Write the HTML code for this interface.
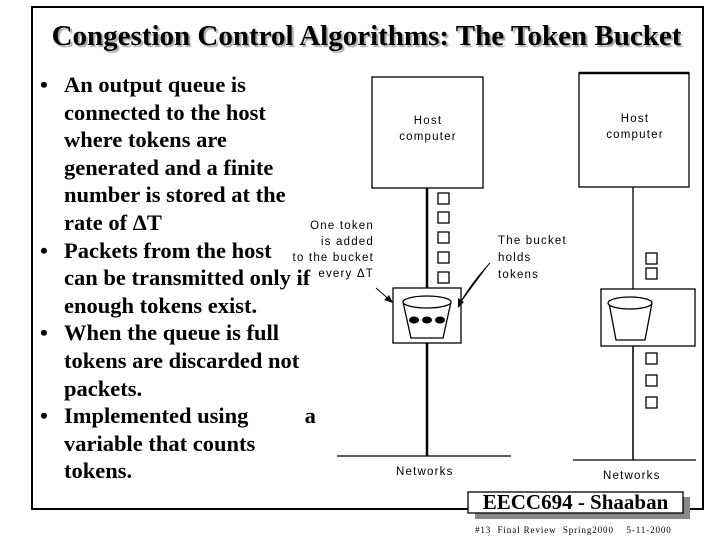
<!DOCTYPE html>
<html><head><meta charset="utf-8"><style>
body{margin:0;width:720px;height:540px;background:#fff;position:relative;overflow:hidden;font-family:"Liberation Serif",serif}
.frame{position:absolute;left:31px;top:6px;width:669px;height:500px;border:2px solid #000}
.title{position:absolute;left:31px;width:671px;top:20px;text-align:center;font-weight:bold;font-size:29px;text-shadow:2px 2px 1px #aaa;white-space:nowrap}
.txt{position:absolute;left:40px;top:71px;font-weight:bold;font-size:22.5px;line-height:27.6px;white-space:nowrap}
.txt div{position:relative;padding-left:24px}
.txt .b:before{content:"•";position:absolute;left:0}
.s{position:absolute;font-family:"Liberation Sans",sans-serif;font-size:11.5px;letter-spacing:1.2px;line-height:16px}
</style></head><body>
<div class="frame"></div>
<div class="title">Congestion Control Algorithms: The Token Bucket</div>
<div class="txt">
<div class="b">An output queue is</div><div>connected to the host</div><div>where tokens are</div><div>generated and a finite</div><div>number is stored at the</div><div>rate of ΔT</div>
<div class="b">Packets from the host</div><div>can be transmitted only if</div><div>enough tokens exist.</div>
<div class="b">When the queue is full</div><div>tokens are discarded not</div><div>packets.</div>
<div class="b">Implemented using &nbsp; &nbsp; &nbsp; &nbsp; &nbsp;a</div><div>variable that counts</div><div>tokens.</div>
</div>
<svg style="position:absolute;left:0;top:0" width="720" height="540">
<g fill="#fff" stroke="#000" stroke-width="1.3">
<rect x="372" y="77" width="111" height="111"/>
<line x1="427" y1="188" x2="427" y2="456" stroke-width="2.5"/>
<line x1="337" y1="456" x2="511" y2="456"/>
<rect x="438" y="193" width="11" height="11"/><rect x="438" y="212" width="11" height="11"/><rect x="438" y="232" width="11" height="11"/><rect x="438" y="252" width="11" height="11"/><rect x="438" y="272" width="11" height="11"/>
<rect x="393" y="288" width="68" height="55"/>
<path d="M403 302 L411 338 L443 338 L451 302"/>
<ellipse cx="427" cy="302" rx="24" ry="6"/>
<rect x="579" y="73" width="110" height="114"/>
<line x1="579" y1="73" x2="689" y2="73" stroke-width="2.5"/>
<line x1="633" y1="187" x2="633" y2="460"/>
<line x1="573" y1="460" x2="696" y2="460"/>
<rect x="646" y="253" width="11" height="11"/><rect x="646" y="268" width="11" height="11"/>
<rect x="601" y="289" width="94" height="57"/>
<path d="M609 303 L616 340 L645 340 L652 303"/>
<ellipse cx="630" cy="303" rx="22" ry="6"/>
<line x1="633" y1="346" x2="633" y2="460"/>
<rect x="646" y="353" width="11" height="11"/><rect x="646" y="375" width="11" height="11"/><rect x="646" y="397" width="11" height="11"/>
</g>
<g fill="#000"><ellipse cx="414" cy="320" rx="5" ry="3.5"/><ellipse cx="427" cy="320" rx="5" ry="3.5"/><ellipse cx="440" cy="320" rx="5" ry="3.5"/></g>
<g stroke="#000" stroke-width="1"><line x1="376" y1="288" x2="392" y2="302"/><path d="M490 263 Q470 285 459 305"/></g>
<path d="M393 303 L384 300 L389 295Z M458 308 L458 298 L464 302Z" fill="#000"/>
<rect x="475" y="497" width="215" height="22" fill="#888"/>
<rect x="468" y="492" width="215" height="21" fill="#fff" stroke="#000" stroke-width="1.3"/>
</svg>
<div class="s" style="left:383px;top:113px;width:90px;text-align:center">Host<br>computer</div>
<div class="s" style="left:590px;top:111px;width:90px;text-align:center">Host<br>computer</div>
<div class="s" style="left:280px;top:218px;width:94px;text-align:right">One token<br>is added<br>to the bucket<br>every ΔT</div>
<div class="s" style="left:498px;top:233px;line-height:17px">The bucket<br>holds<br>tokens</div>
<div class="s" style="left:396px;top:464px">Networks</div>
<div class="s" style="left:603px;top:468px">Networks</div>
<div style="position:absolute;left:468px;top:492px;width:215px;text-align:center;font-weight:bold;font-size:21px;line-height:21px;white-space:nowrap">EECC694 - Shaaban</div>
<div style="position:absolute;left:475px;top:525px;font-size:9px;letter-spacing:0.9px;white-space:pre">#13  Final Review  Spring2000    5-11-2000</div>
</body></html>
